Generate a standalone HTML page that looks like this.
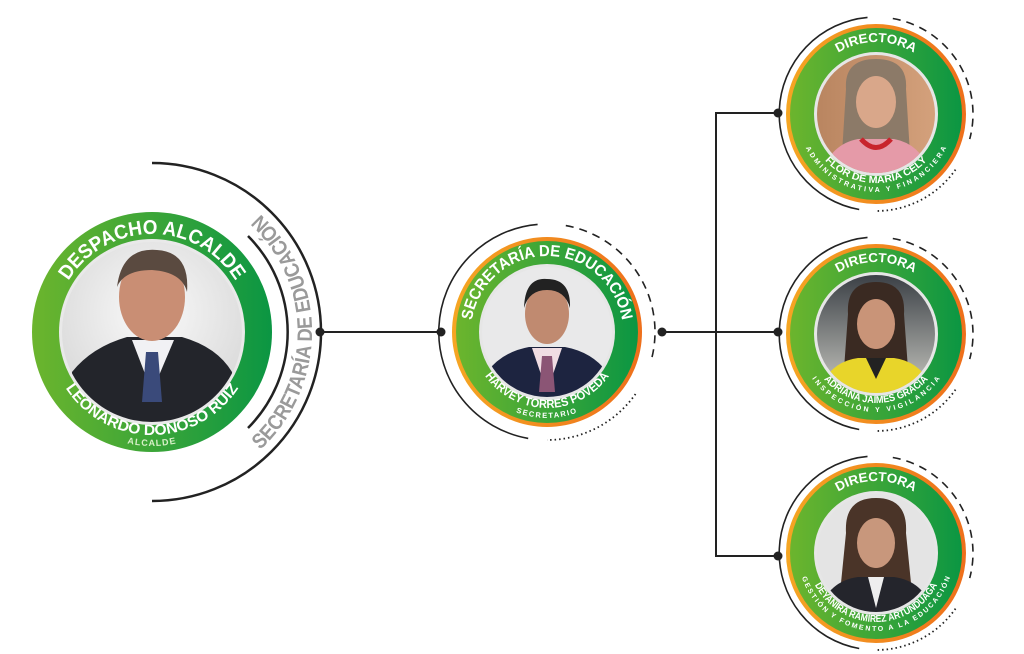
<!DOCTYPE html>
<html><head><meta charset="utf-8"><style>
html,body{margin:0;padding:0;background:#fff;width:1024px;height:654px;overflow:hidden}
svg{display:block}
text{font-family:"Liberation Sans",sans-serif;font-weight:bold}
</style></head><body>
<svg width="1024" height="654" viewBox="0 0 1024 654" xmlns="http://www.w3.org/2000/svg">
<defs>
<linearGradient id="gr" x1="0" y1="0" x2="1" y2="0"><stop offset="0" stop-color="#6cb52d"/><stop offset="1" stop-color="#0b9643"/></linearGradient>
<linearGradient id="orr" x1="0" y1="0" x2="1" y2="0"><stop offset="0" stop-color="#f5a623"/><stop offset="1" stop-color="#ee6f1b"/></linearGradient>
<radialGradient id="bgL" cx="0.5" cy="0.4" r="0.6"><stop offset="0" stop-color="#fafafa"/><stop offset="1" stop-color="#d8d8d8"/></radialGradient>
<linearGradient id="brick" x1="0" y1="0" x2="1" y2="0"><stop offset="0" stop-color="#b98560"/><stop offset="1" stop-color="#d4a17c"/></linearGradient>
<linearGradient id="office" x1="0" y1="0" x2="0" y2="1"><stop offset="0" stop-color="#3a3f45"/><stop offset="1" stop-color="#c9c9c2"/></linearGradient>
<path id="lTop" d="M-98,0 A98,98 0 0 1 98,0"/>
<path id="lBot" d="M-103,0 A103,103 0 0 0 103,0"/>
<path id="lBot2" d="M-114,0 A114,114 0 0 0 114,0"/>
<path id="lArc" d="M0,160 A160,160 0 0 0 0,-160"/>
<path id="mTop" d="M-76,0 A76,76 0 0 1 76,0"/>
<path id="mBot" d="M-76,0 A76,76 0 0 0 76,0"/>
<path id="mBot2" d="M-86,0 A86,86 0 0 0 86,0"/>
<path id="rTop" d="M-72,0 A72,72 0 0 1 72,0"/>
<path id="rBot" d="M-69,0 A69,69 0 0 0 69,0"/>
<path id="rBot2" d="M-78,0 A78,78 0 0 0 78,0"/>
<clipPath id="cL"><circle r="90"/></clipPath>
<clipPath id="cM"><circle r="65"/></clipPath>
<clipPath id="cR"><circle r="59"/></clipPath>
</defs>

<g stroke="#222" stroke-width="2" fill="none">
<line x1="320" y1="332" x2="441" y2="332"/>
<line x1="662" y1="332" x2="778" y2="332"/>
<polyline points="778,113 716,113 716,556 778,556"/>
</g>
<g fill="#222">
<circle cx="320" cy="332" r="4.5"/><circle cx="441" cy="332" r="4.5"/>
<circle cx="662" cy="332" r="4.5"/><circle cx="778" cy="332" r="4.5"/>
<circle cx="778" cy="113" r="4.5"/><circle cx="778" cy="556" r="4.5"/>
</g>

<!-- LEFT -->
<g transform="translate(152,332)">
<path d="M0,-169 A169,169 0 0 1 0,169" stroke="#222" stroke-width="2.5" fill="none"/>
<path d="M96,-96 A136,136 0 0 1 96,96" stroke="#222" stroke-width="2.5" fill="none"/>
<text font-size="21" fill="#9a9a9a" textLength="265" lengthAdjust="spacingAndGlyphs"><textPath href="#lArc" startOffset="50%" text-anchor="middle">SECRETARÍA DE EDUCACIÓN</textPath></text>
<circle r="120" fill="url(#gr)"/>
<circle r="93" fill="#e9e9e9"/>
<g clip-path="url(#cL)">
<rect x="-95" y="-95" width="190" height="190" fill="url(#bgL)"/>
<path d="M-85,95 L-80,40 Q-60,15 -25,5 L30,5 Q65,15 80,40 L85,95Z" fill="#23252b"/>
<path d="M-20,8 L0,60 L22,8Z" fill="#f1f1f4"/>
<path d="M-6,20 L6,20 L10,70 L-10,70Z" fill="#3a4a7a"/>
<ellipse cx="0" cy="-35" rx="33" ry="44" fill="#c98e74"/>
<path d="M-35,-45 Q-30,-85 5,-82 Q38,-80 35,-40 Q30,-60 0,-62 Q-28,-62 -35,-45Z" fill="#5a4a40"/>
</g>
<text font-size="20" fill="#fff" textLength="200" lengthAdjust="spacingAndGlyphs"><textPath href="#lTop" startOffset="50%" text-anchor="middle">DESPACHO ALCALDE</textPath></text>
<text font-size="15" fill="#fff" textLength="205" lengthAdjust="spacingAndGlyphs"><textPath href="#lBot" startOffset="50%" text-anchor="middle">LEONARDO DONOSO RUIZ</textPath></text>
<text font-size="9" font-weight="normal" fill="#d8f0c8" letter-spacing="1"><textPath href="#lBot2" startOffset="50%" text-anchor="middle">ALCALDE</textPath></text>
</g>

<!-- MIDDLE -->
<g transform="translate(547,332)">
<g fill="none" stroke="#222" stroke-width="1.6">
<path d="M-9.4,-107.6 A108,108 0 0 0 -18.8,106.4"/>
<path d="M18.8,-106.4 A108,108 0 0 1 104.3,28" stroke-dasharray="8,6"/>
<path d="M88.5,62 A108,108 0 0 1 0,108" stroke-dasharray="1.5,3" stroke-width="1.8"/>
</g>
<circle r="95" fill="url(#orr)"/>
<circle r="91" fill="url(#gr)"/>
<circle r="68" fill="#e6e6e6"/>
<g clip-path="url(#cM)">
<rect x="-70" y="-70" width="140" height="140" fill="#e9e9ea"/>
<path d="M-65,70 L-60,40 Q-45,20 -18,15 L18,15 Q45,20 60,40 L65,70Z" fill="#1d2440"/>
<path d="M-15,16 L0,60 L15,16Z" fill="#f0dde3"/>
<path d="M-5,24 L5,24 L8,60 L-8,60Z" fill="#8b5575"/>
<ellipse cx="0" cy="-18" rx="22" ry="30" fill="#c08a70"/>
<path d="M-23,-24 Q-22,-55 0,-53 Q24,-53 23,-24 Q18,-42 0,-42 Q-18,-42 -23,-24Z" fill="#222"/>
</g>
<text font-size="16" fill="#fff" textLength="215" lengthAdjust="spacingAndGlyphs"><textPath href="#mTop" startOffset="50%" text-anchor="middle">SECRETARÍA DE EDUCACIÓN</textPath></text>
<text font-size="12" fill="#fff" textLength="145" lengthAdjust="spacingAndGlyphs"><textPath href="#mBot" startOffset="50%" text-anchor="middle">HARVEY TORRES POVEDA</textPath></text>
<text font-size="7.5" fill="#fff" letter-spacing="1.5"><textPath href="#mBot2" startOffset="50%" text-anchor="middle">SECRETARIO</textPath></text>
</g>

<!-- RIGHT TOP -->
<g transform="translate(876,114)">
<g fill="none" stroke="#222" stroke-width="1.6">
<path d="M-8.5,-96.6 A97,97 0 0 0 -16.8,95.5"/>
<path d="M16.8,-95.5 A97,97 0 0 1 93.7,25.1" stroke-dasharray="8,6"/>
<path d="M79.5,55.6 A97,97 0 0 1 0,97" stroke-dasharray="1.5,3" stroke-width="1.8"/>
</g>
<circle r="90" fill="url(#orr)"/>
<circle r="86" fill="url(#gr)"/>
<circle r="62" fill="#e6e6e6"/>
<g clip-path="url(#cR)">
<rect x="-60" y="-60" width="120" height="120" fill="url(#brick)"/>
<path d="M-30,-25 Q-32,-55 0,-55 Q32,-55 30,-25 L34,40 L-34,40Z" fill="#8c7a68"/>
<path d="M-55,60 Q-45,30 -18,25 L18,25 Q45,30 55,60Z" fill="#e59aa8"/>
<ellipse cx="0" cy="-12" rx="20" ry="26" fill="#d9a78a"/>
<path d="M-15,25 Q0,42 15,25" stroke="#c8242c" stroke-width="5" fill="none"/>
</g>
<text font-size="13" fill="#fff" textLength="80" lengthAdjust="spacingAndGlyphs"><textPath href="#rTop" startOffset="50%" text-anchor="middle">DIRECTORA</textPath></text>
<text font-size="10" fill="#fff" textLength="115" lengthAdjust="spacingAndGlyphs"><textPath href="#rBot" startOffset="50%" text-anchor="middle">FLOR DE MARÍA CELY</textPath></text>
<text font-size="7" fill="#fff" textLength="175" lengthAdjust="spacing"><textPath href="#rBot2" startOffset="50%" text-anchor="middle">ADMINISTRATIVA Y FINANCIERA</textPath></text>
</g>

<!-- RIGHT MID -->
<g transform="translate(876,334)">
<g fill="none" stroke="#222" stroke-width="1.6">
<path d="M-8.5,-96.6 A97,97 0 0 0 -16.8,95.5"/>
<path d="M16.8,-95.5 A97,97 0 0 1 93.7,25.1" stroke-dasharray="8,6"/>
<path d="M79.5,55.6 A97,97 0 0 1 0,97" stroke-dasharray="1.5,3" stroke-width="1.8"/>
</g>
<circle r="90" fill="url(#orr)"/>
<circle r="86" fill="url(#gr)"/>
<circle r="62" fill="#e6e6e6"/>
<g clip-path="url(#cR)">
<rect x="-60" y="-60" width="120" height="120" fill="url(#office)"/>
<path d="M-28,-20 Q-30,-52 0,-52 Q30,-52 28,-20 L32,35 L-32,35Z" fill="#3a2a22"/>
<path d="M-58,60 Q-48,28 -18,24 L18,24 Q48,28 58,60Z" fill="#e8d52a"/>
<path d="M-10,24 L0,45 L10,24Z" fill="#222"/>
<ellipse cx="0" cy="-10" rx="19" ry="25" fill="#c99478"/>
</g>
<text font-size="13" fill="#fff" textLength="80" lengthAdjust="spacingAndGlyphs"><textPath href="#rTop" startOffset="50%" text-anchor="middle">DIRECTORA</textPath></text>
<text font-size="10" fill="#fff" textLength="118" lengthAdjust="spacingAndGlyphs"><textPath href="#rBot" startOffset="50%" text-anchor="middle">ADRIANA JAIMES GRACIA</textPath></text>
<text font-size="7" fill="#fff" textLength="150" lengthAdjust="spacing"><textPath href="#rBot2" startOffset="50%" text-anchor="middle">INSPECCIÓN Y VIGILANCIA</textPath></text>
</g>

<!-- RIGHT BOTTOM -->
<g transform="translate(876,553)">
<g fill="none" stroke="#222" stroke-width="1.6">
<path d="M-8.5,-96.6 A97,97 0 0 0 -16.8,95.5"/>
<path d="M16.8,-95.5 A97,97 0 0 1 93.7,25.1" stroke-dasharray="8,6"/>
<path d="M79.5,55.6 A97,97 0 0 1 0,97" stroke-dasharray="1.5,3" stroke-width="1.8"/>
</g>
<circle r="90" fill="url(#orr)"/>
<circle r="86" fill="url(#gr)"/>
<circle r="62" fill="#e6e6e6"/>
<g clip-path="url(#cR)">
<rect x="-60" y="-60" width="120" height="120" fill="#e4e4e4"/>
<path d="M-30,-20 Q-32,-55 0,-55 Q32,-55 30,-20 L36,40 L-36,40Z" fill="#4a3428"/>
<path d="M-58,60 Q-48,28 -18,24 L18,24 Q48,28 58,60Z" fill="#24252c"/>
<path d="M-8,24 L0,55 L8,24Z" fill="#eee"/>
<ellipse cx="0" cy="-10" rx="19" ry="25" fill="#c8977c"/>
</g>
<text font-size="13" fill="#fff" textLength="80" lengthAdjust="spacingAndGlyphs"><textPath href="#rTop" startOffset="50%" text-anchor="middle">DIRECTORA</textPath></text>
<text font-size="10" fill="#fff" textLength="150" lengthAdjust="spacingAndGlyphs"><textPath href="#rBot" startOffset="50%" text-anchor="middle">DEYANIRA RAMÍREZ ARTUNDUAGA</textPath></text>
<text font-size="7" fill="#fff" textLength="195" lengthAdjust="spacing"><textPath href="#rBot2" startOffset="50%" text-anchor="middle">GESTIÓN Y FOMENTO A LA EDUCACIÓN</textPath></text>
</g>
</svg>
</body></html>
